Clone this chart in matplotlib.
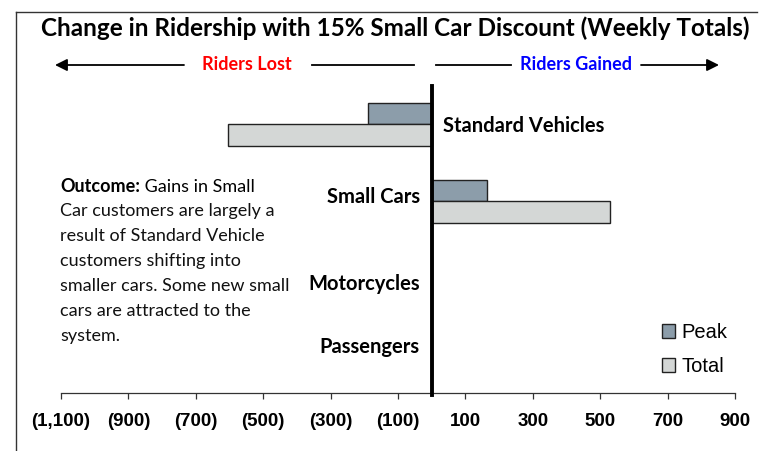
import matplotlib
matplotlib.use("Agg")
import matplotlib.pyplot as plt
from matplotlib.ticker import FuncFormatter, FixedLocator
from matplotlib.patches import Patch, FancyArrowPatch
from matplotlib.lines import Line2D

# ---- data ----
categories = ["Standard Vehicles", "Small Cars", "Motorcycles", "Passengers"]
peak = [-190, 165, 0, 0]
total = [-605, 530, 0, 0]
tick_values = [-1100, -900, -700, -500, -300, -100, 100, 300, 500, 700, 900]

W, H = 769, 451
fig = plt.figure(figsize=(W / 100, H / 100), dpi=100)

def fx(px):
    return px / W

def fy(py):
    return 1 - py / H

ax = fig.add_axes([fx(61), fy(393), fx(735) - fx(61), (393 - 86) / H])

ypos = list(range(len(categories)))
bar_h = 0.28
peak_c = "#8C9DAA"
total_c = "#D4D7D6"
edge_c = "#222222"
ax.barh([y - bar_h / 2 for y in ypos], peak, height=bar_h, color=peak_c,
        edgecolor=edge_c, linewidth=1.0, label="Peak", zorder=2)
ax.barh([y + bar_h / 2 for y in ypos], total, height=bar_h, color=total_c,
        edgecolor=edge_c, linewidth=1.0, label="Total", zorder=2)

ax.axvline(0, color="black", linewidth=2.8, zorder=3, ymin=-0.008, ymax=1,
           clip_on=False)

ax.set_xlim(-1100, 900)
ax.set_ylim(len(categories) - 0.5, -0.5)

for s in ["top", "right", "left"]:
    ax.spines[s].set_visible(False)
ax.spines["bottom"].set_color("#333333")
ax.spines["bottom"].set_linewidth(0.9)
ax.set_yticks([])
ax.xaxis.set_major_locator(FixedLocator(tick_values))

def fmt(v, pos):
    if v < 0:
        return "({:,.0f})".format(-v)
    return "{:,.0f}".format(v)

ax.xaxis.set_major_formatter(FuncFormatter(fmt))
ax.tick_params(axis="x", direction="out", length=4.5, width=0.9, color="#333333",
               pad=10, labelsize=13.5)
for lab in ax.get_xticklabels():
    lab.set_fontfamily("Liberation Sans")
    lab.set_fontweight("bold")

# category labels
label_font = dict(family="Lato", weight="bold", size=14.5, color="black")
label_dx = [11, -12, -12, -12]
label_dy = [-2, 4, -6, 8]
for i, cat in enumerate(categories):
    ha = "left" if label_dx[i] > 0 else "right"
    ax.annotate(cat, xy=(0, i), xytext=(label_dx[i], label_dy[i]),
                textcoords="offset pixels", ha=ha, va="center", **label_font)

# legend
leg = fig.legend(handles=[Patch(facecolor=peak_c, edgecolor=edge_c, linewidth=1.0),
                          Patch(facecolor=total_c, edgecolor=edge_c, linewidth=1.0)],
                 labels=["Peak", "Total"], loc="upper left",
                 bbox_to_anchor=(fx(662), fy(323)), frameon=False,
                 handlelength=0.65, handleheight=0.65, handletextpad=0.3,
                 labelspacing=0.75, borderpad=0, borderaxespad=0,
                 prop=dict(family="Liberation Sans", size=14.5))

# title
fig.text(fx(395), fy(28), "Change in Ridership with 15% Small Car Discount (Weekly Totals)",
         ha="center", va="center", family="Lato", weight="bold", size=17.5)

# border
fig.add_artist(Line2D([fx(16), fx(16)], [fy(12), fy(451)], color="#333333", linewidth=1.0))
fig.add_artist(Line2D([fx(16), fx(757)], [fy(12), fy(12)], color="#333333", linewidth=1.0))

# direction arrows
ay = fy(65)
arrow_kw = dict(arrowstyle="-|>,head_length=0.6,head_width=0.3", color="black",
                linewidth=1.3, shrinkA=0, shrinkB=0, mutation_scale=12)
fig.add_artist(FancyArrowPatch((fx(184), ay), (fx(55), ay),
                               transform=fig.transFigure, **arrow_kw))
fig.add_artist(Line2D([fx(312), fx(414)], [ay, ay], color="black", linewidth=1.3))
fig.add_artist(Line2D([fx(436), fx(511)], [ay, ay], color="black", linewidth=1.3))
fig.add_artist(FancyArrowPatch((fx(641), ay), (fx(719), ay),
                               transform=fig.transFigure, **arrow_kw))
fig.text(fx(247), ay, "Riders Lost", ha="center", va="center", color="#FF0000",
         family="Lato", weight="bold", size=13)
fig.text(fx(576), ay, "Riders Gained", ha="center", va="center", color="#0000FF",
         family="Lato", weight="bold", size=13)

# outcome note
note_font = dict(family="Lato", size=13)
t1 = fig.text(fx(60), fy(186), "Outcome:", ha="left", va="center", weight="bold", **note_font)
ax.annotate(" Gains in Small", xy=(1, 0), xycoords=t1, ha="left", va="bottom",
            annotation_clip=False, **note_font)
fig.text(fx(60), fy(203), "Car customers are largely a\nresult of Standard Vehicle\n"
         "customers shifting into\nsmaller cars. Some new small\ncars are attracted to the\nsystem.",
         ha="left", va="top", linespacing=1.7, color="#111111", **note_font)

fig.savefig("out.png", dpi=100)
